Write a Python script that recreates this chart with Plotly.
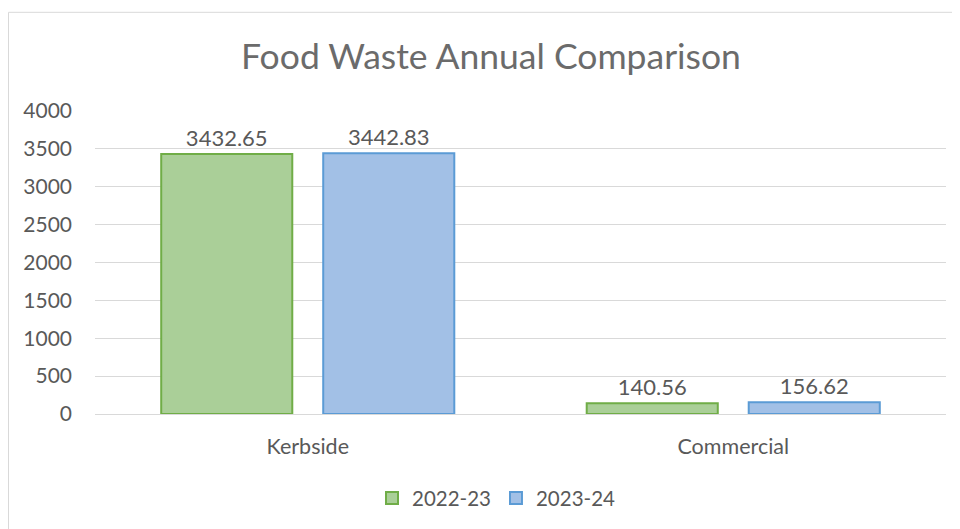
import plotly.graph_objects as go

categories = ["Kerbside", "Commercial"]
series_names = ["2022-23", "2023-24"]
values_2022_23 = [3432.65, 140.56]
values_2023_24 = [3442.83, 156.62]
y_ticks = [0, 500, 1000, 1500, 2000, 2500, 3000, 3500, 4000]

FONT = "Lato, 'Open Sans', sans-serif"
TXT = "#595959"

fig = go.Figure()
fig.add_trace(go.Bar(
    name=series_names[0], x=categories, y=values_2022_23,
    marker=dict(color="#aacf98", line=dict(color="#70ad47", width=2)),
    text=[f"{v:.2f}" for v in values_2022_23], textposition="outside",
    textfont=dict(family=FONT, size=22, color=TXT), cliponaxis=False,
))
fig.add_trace(go.Bar(
    name=series_names[1], x=categories, y=values_2023_24,
    marker=dict(color="#a2c0e6", line=dict(color="#5b9bd5", width=2)),
    text=[f"{v:.2f}" for v in values_2023_24], textposition="outside",
    textfont=dict(family=FONT, size=22, color=TXT), cliponaxis=False,
))

# the page body adds an 8px offset; margins compensate so the plot area lands
# at x 95..946, y 110.7..413.7 of the window
fig.update_layout(
    width=960, height=529,
    margin=dict(l=87, r=22, t=102.7, b=123.3, autoexpand=False),
    paper_bgcolor="white", plot_bgcolor="white",
    barmode="group", bargap=0.2385, bargroupgap=0.191,
    title=dict(text="Food Waste Annual Comparison", x=483 / 960, xanchor="center",
               y=1 - 49 / 529, yanchor="middle", yref="container",
               font=dict(family=FONT, size=35.5, color="#6b6b6b")),
    font=dict(family=FONT, color=TXT),
    legend=dict(orientation="h", x=0.4718, xanchor="center", y=-0.278, yanchor="middle",
                font=dict(family=FONT, size=20.5, color=TXT), itemwidth=30,
                traceorder="normal"),
    yaxis=dict(range=[0, 4000], tickvals=y_ticks, showgrid=True, gridcolor="#d9d9d9",
               gridwidth=1, zeroline=False, showline=False, ticks="",
               ticklabelstandoff=22, tickfont=dict(family=FONT, size=21, color=TXT)),
    xaxis=dict(showline=True, linecolor="#d9d9d9", linewidth=1, ticks="",
               ticklabelstandoff=13, tickfont=dict(family=FONT, size=21.5, color=TXT)),
    showlegend=True,
)
fig.add_shape(type="rect", xref="paper", yref="paper",
              x0=(0.5 - 87) / 851, x1=1.2, y0=-0.6, y1=(413.7 - 12) / 303,
              line=dict(color="#d9d9d9", width=1), layer="below")

fig.write_html("out.html")
